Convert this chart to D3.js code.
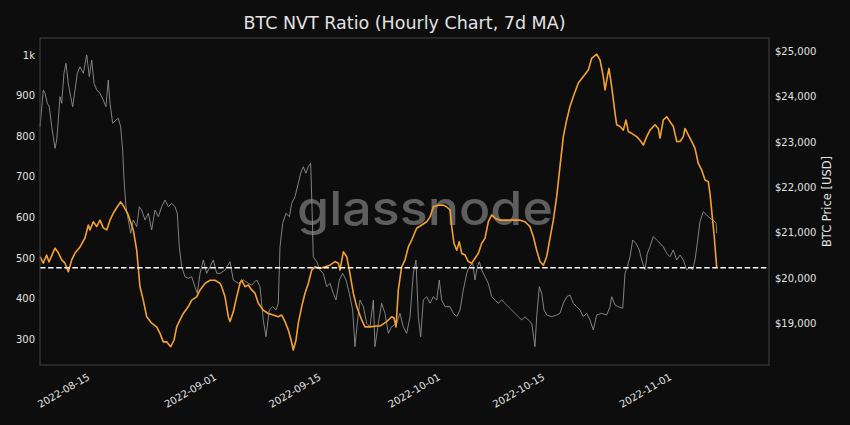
<!DOCTYPE html>
<html><head><meta charset="utf-8">
<script src="https://cdn.jsdelivr.net/npm/d3@7"></script>
<style>html,body{margin:0;padding:0;background:#0d0d0d;}svg{display:block}</style>
</head><body>
<svg id="chart" width="850" height="425"></svg>
<script>
const chartTitle = "BTC NVT Ratio (Hourly Chart, 7d MA)";
const rightAxisTitle = "BTC Price [USD]";
const watermark = "glassnode";
// [days since 2022-08-01 00:00 UTC, NVT ratio 7d MA]
const nvtPoints = [[7.30,503],[7.74,487],[8.19,507],[8.50,490],[9.31,524],[9.71,514],[10.21,495],[10.65,487],[11.09,466],[11.55,495],[11.99,512],[12.66,527],[13.33,549],[13.77,581],[14.00,569],[14.44,589],[14.90,577],[15.34,593],[15.78,574],[16.24,569],[16.68,593],[17.12,610],[17.66,626],[18.11,638],[18.56,626],[19.13,606],[19.80,569],[20.26,519],[20.70,429],[21.14,396],[21.60,355],[22.27,339],[22.94,330],[23.38,314],[23.83,293],[24.28,293],[24.82,281],[25.26,297],[25.62,330],[26.06,347],[26.51,363],[27.18,380],[27.63,396],[28.30,404],[28.75,421],[29.42,437],[30.09,445],[30.76,445],[31.43,437],[31.65,429],[32.10,404],[32.54,355],[32.77,343],[33.21,367],[33.66,404],[34.11,437],[34.33,445],[34.78,429],[35.22,433],[35.67,421],[36.12,413],[36.56,388],[37.23,371],[37.90,363],[38.57,359],[39.24,355],[39.70,359],[40.14,343],[40.58,322],[40.90,302],[41.25,273],[41.61,297],[41.92,339],[42.38,380],[42.82,413],[43.26,437],[43.72,470],[44.16,478],[44.83,474],[45.50,478],[46.17,482],[46.84,491],[47.29,487],[47.51,470],[47.96,515],[48.41,503],[48.76,470],[49.30,413],[49.75,380],[50.42,347],[50.86,330],[51.53,330],[52.43,332],[52.87,332],[53.77,343],[54.44,355],[54.75,352],[55.02,330],[55.33,421],[55.78,478],[56.23,495],[56.67,527],[57.12,544],[57.79,573],[58.46,581],[59.14,589],[59.58,601],[60.02,626],[60.69,630],[61.36,630],[61.81,626],[62.26,618],[62.49,577],[62.79,536],[63.16,519],[63.50,540],[63.83,511],[64.27,507],[64.71,491],[65.17,487],[65.61,499],[66.05,511],[66.51,536],[66.95,548],[67.39,589],[67.85,606],[68.29,598],[68.96,593],[69.86,593],[70.74,593],[71.64,593],[72.31,589],[72.98,577],[73.43,552],[73.88,519],[74.32,491],[74.77,482],[75.22,503],[75.66,548],[76.11,593],[76.56,651],[77.00,725],[77.45,799],[77.90,840],[78.34,873],[78.79,898],[79.46,931],[80.13,947],[80.80,963],[81.25,992],[81.92,1002],[82.37,988],[82.81,947],[83.04,914],[83.35,947],[83.57,967],[83.93,922],[84.38,857],[84.60,828],[85.05,824],[85.49,815],[85.85,840],[86.16,811],[86.61,807],[87.28,799],[87.73,790],[88.17,778],[88.63,799],[89.07,815],[89.74,828],[90.18,819],[90.41,795],[90.85,840],[91.31,848],[91.75,836],[92.19,824],[92.65,787],[93.09,787],[93.53,799],[93.76,819],[94.20,803],[94.66,787],[95.10,770],[95.54,733],[95.99,717],[96.44,692],[96.88,688],[97.11,659],[97.42,601],[97.68,552],[98.01,476]];
// [days since 2022-08-01 00:00 UTC, BTC price USD]
const pricePoints = [[7.30,23340],[7.74,24146],[7.97,24073],[8.28,23853],[8.54,23778],[8.87,23337],[9.08,23116],[9.31,22860],[9.54,23043],[9.75,23484],[9.98,23999],[10.21,23853],[10.51,24515],[10.78,24735],[11.09,24294],[11.41,23999],[11.68,23778],[11.99,24146],[12.30,24515],[12.66,24660],[13.10,24515],[13.56,24918],[13.91,24440],[14.23,24808],[14.54,24294],[14.90,24146],[15.34,24073],[15.78,23926],[16.14,23778],[16.45,24367],[16.68,23853],[17.04,23412],[17.48,23484],[17.79,23522],[18.11,23337],[18.38,22823],[18.56,22161],[18.82,21572],[19.13,21278],[19.46,20985],[19.80,21278],[20.26,21131],[20.61,21572],[20.93,21499],[21.37,21278],[21.82,21426],[22.27,21058],[22.71,21499],[23.16,21351],[23.61,21572],[24.05,21720],[24.50,21572],[24.95,21647],[25.39,21572],[25.70,21426],[25.97,20690],[26.29,20248],[26.73,20028],[27.18,19992],[27.63,20028],[28.07,19807],[28.38,19661],[28.75,20102],[29.19,20396],[29.64,20102],[30.09,20248],[30.53,20396],[30.98,20102],[31.43,20102],[32.10,20175],[32.77,20358],[33.21,19955],[33.88,19882],[34.55,19955],[35.22,19882],[35.67,19845],[36.34,19955],[36.79,19807],[37.23,19072],[37.59,18704],[38.03,19293],[38.49,19366],[38.93,19293],[39.24,19441],[39.47,20690],[39.83,21206],[40.27,21426],[40.72,21351],[41.04,21647],[41.48,21792],[41.92,22088],[42.24,22309],[42.59,22454],[42.95,22309],[43.26,22454],[43.58,22529],[43.76,21572],[43.93,20469],[44.39,20358],[44.83,20175],[45.27,20102],[45.73,19807],[46.17,19882],[46.61,19661],[46.98,19514],[47.42,19955],[47.87,20102],[48.32,19955],[48.76,19661],[49.21,19293],[49.52,18484],[49.83,19000],[50.19,19514],[50.64,19366],[51.09,19000],[51.53,18925],[51.98,19514],[52.20,18484],[52.65,19000],[53.10,19441],[53.54,19220],[53.99,18779],[54.44,18925],[55.11,19000],[55.55,19220],[55.99,18925],[56.45,18779],[56.90,19146],[57.34,20102],[57.70,20396],[58.01,19146],[58.33,18704],[58.68,19514],[59.14,19586],[59.58,19441],[60.02,19586],[60.48,19514],[60.82,19955],[61.14,19514],[61.59,19366],[62.26,19366],[62.70,19220],[63.16,19146],[63.60,19293],[64.04,19735],[64.50,20102],[64.85,20248],[65.30,20323],[65.61,19955],[65.92,20248],[66.19,20358],[66.51,20175],[66.95,20028],[67.39,19882],[67.85,19586],[68.29,19514],[68.73,19441],[69.19,19514],[69.63,19441],[70.07,19366],[70.53,19293],[70.97,19220],[71.41,19146],[71.87,19072],[72.31,19146],[72.75,19072],[73.21,19000],[73.65,18484],[73.88,19146],[74.23,19807],[74.55,19661],[74.86,19293],[75.22,19183],[75.89,19146],[76.56,19183],[77.00,19220],[77.45,19441],[77.90,19586],[78.34,19624],[78.79,19441],[79.24,19366],[79.68,19293],[80.13,19146],[80.58,19220],[81.03,19072],[81.47,18852],[81.92,19183],[82.59,19220],[83.26,19183],[83.71,19366],[83.93,19586],[84.38,19404],[84.82,19366],[85.41,19330],[85.72,20102],[86.02,20248],[86.39,20469],[86.75,20837],[87.19,20764],[87.63,20617],[87.95,20396],[88.40,20175],[88.71,20544],[89.07,20690],[89.51,20911],[89.96,20837],[90.41,20764],[90.85,20690],[91.31,20544],[91.75,20469],[92.19,20617],[92.65,20396],[93.09,20506],[93.53,20396],[93.99,20175],[94.43,20248],[94.79,20175],[95.10,20396],[95.41,20764],[95.77,21241],[96.21,21461],[96.67,21389],[97.11,21316],[97.55,21278],[97.92,21206],[98.01,20985]];
const nvtTicks = [300,400,500,600,700,800,900,1000];
const priceTicks = [19000,20000,21000,22000,23000,24000,25000];
const dateTicks = ["2022-08-15","2022-09-01","2022-09-15","2022-10-01","2022-10-15","2022-11-01"];
const currentNvt = 476;

const W = 850, H = 425;
const plot = {left:40, right:769, top:38, bottom:365};
const baseMs = Date.UTC(2022,7,1);
const dayToDate = d => new Date(baseMs + d*86400000);

const x = d3.scaleUtc().domain([dayToDate(7.297), dayToDate(105.02)]).range([plot.left, plot.right]);
const yL = d3.scaleLinear().domain([236,1042]).range([plot.bottom, plot.top]);
const yR = d3.scaleLinear().domain([18080,25293]).range([plot.bottom, plot.top]);

const svg = d3.select("#chart");
svg.append("rect").attr("width",W).attr("height",H).attr("fill","#0d0d0d");

const font = "'DejaVu Sans', sans-serif";
const textCol = "#e2e2e2";

// watermark
svg.append("text").attr("x",297).attr("y",225)
  .attr("font-family","Inter, Lato, sans-serif").attr("font-weight",500)
  .attr("font-size",47).attr("fill","#5e5e5e")
  .attr("textLength",256).attr("lengthAdjust","spacingAndGlyphs")
  .text(watermark);

// price line (right axis)
const priceLine = d3.line().x(d => x(dayToDate(d[0]))).y(d => yR(d[1]));
svg.append("path").datum(pricePoints).attr("d",priceLine)
  .attr("fill","none").attr("stroke","#8f8f8f").attr("stroke-width",0.9).attr("stroke-linejoin","round");

// NVT line (left axis)
const nvtLine = d3.line().x(d => x(dayToDate(d[0]))).y(d => yL(d[1]));
svg.append("path").datum(nvtPoints).attr("d",nvtLine)
  .attr("fill","none").attr("stroke","#f5a132").attr("stroke-width",1.6).attr("stroke-linejoin","round");

// current value dashed line
svg.append("line").attr("x1",plot.left).attr("x2",plot.right)
  .attr("y1",yL(currentNvt)).attr("y2",yL(currentNvt))
  .attr("stroke","#ffffff").attr("stroke-width",1.5).attr("stroke-dasharray","5.5,2.6");

// frame
svg.append("rect").attr("x",plot.left).attr("y",plot.top)
  .attr("width",plot.right-plot.left).attr("height",plot.bottom-plot.top)
  .attr("fill","none").attr("stroke","#454545").attr("stroke-width",1);

// left axis
const gL = svg.append("g").attr("transform",`translate(${plot.left},0)`)
  .call(d3.axisLeft(yL).tickValues(nvtTicks).tickSize(0).tickPadding(5)
    .tickFormat(v => v >= 1000 ? "1k" : String(v)));
// right axis
const gR = svg.append("g").attr("transform",`translate(${plot.right},0)`)
  .call(d3.axisRight(yR).tickValues(priceTicks).tickSize(0).tickPadding(6)
    .tickFormat(v => "$" + d3.format(",")(v)));
// bottom axis
const gB = svg.append("g").attr("transform",`translate(0,${plot.bottom})`)
  .call(d3.axisBottom(x).tickValues(dateTicks.map(s => new Date(s+"T00:00:00Z"))).tickSize(0)
    .tickFormat(d3.utcFormat("%Y-%m-%d")));
gB.selectAll("text").attr("y",0).attr("dy",0).attr("text-anchor","end")
  .attr("transform","translate(0,14) rotate(-30)");

[gL,gR,gB].forEach(g => {
  g.select(".domain").remove();
  g.selectAll("text").attr("font-family",font).attr("font-size",10).attr("fill",textCol);
});

// title
svg.append("text").attr("x",(plot.left+plot.right)/2).attr("y",29)
  .attr("text-anchor","middle").attr("font-family",font).attr("font-size",17.5)
  .attr("fill",textCol).text(chartTitle);

// right axis title
svg.append("text").attr("transform",`translate(831,${(plot.top+plot.bottom)/2}) rotate(-90)`)
  .attr("text-anchor","middle").attr("font-family",font).attr("font-size",11.5)
  .attr("fill",textCol).text(rightAxisTitle);
</script>
</body></html>
